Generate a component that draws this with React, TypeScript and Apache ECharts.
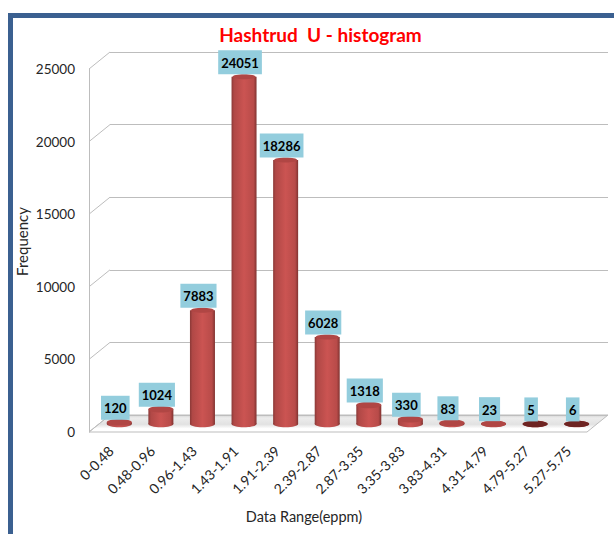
import React, { useEffect, useRef } from "react";
import * as echarts from "echarts";

const categories = ["0-0.48","0.48-0.96","0.96-1.43","1.43-1.91","1.91-2.39","2.39-2.87","2.87-3.35","3.35-3.83","3.83-4.31","4.31-4.79","4.79-5.27","5.27-5.75"];
const frequency = [120,1024,7883,24051,18286,6028,1318,330,83,23,5,6];
const yTicks = [0,5000,10000,15000,20000,25000];

const FONT = "Lato, 'Noto Sans', sans-serif";
const FRONT = { left: 89, right: 587, top: 69, bottom: 432 };
const BACK = { left: 110, right: 608, top: 52, bottom: 415 };
const GRID_LINE = "#bdbdbd";

export default function App() {
  const ref = useRef<HTMLDivElement>(null);
  useEffect(() => {
    document.body.style.margin = "0";
    const chart = echarts.init(ref.current!, undefined, { renderer: "svg" });
    const rowH = (FRONT.bottom - FRONT.top) / (yTicks.length - 1);
    const sideLines = yTicks.map((t, i) => ({
      type: "line",
      z: 1,
      silent: true,
      shape: { x1: FRONT.left, y1: FRONT.bottom - i * rowH, x2: BACK.left, y2: BACK.bottom - i * rowH },
      style: { stroke: GRID_LINE, lineWidth: 1 },
    }));
    const floorFill = new (echarts as any).graphic.LinearGradient(0, 0, 0, 1, [
      { offset: 0, color: "#d6d6d6" },
      { offset: 0.18, color: "#ececec" },
      { offset: 0.55, color: "#e2e2e2" },
      { offset: 0.8, color: "#ffffff" },
      { offset: 1, color: "#ffffff" },
    ]);
    chart.setOption({
      animation: false,
      backgroundColor: "#ffffff",
      title: {
        text: "Hashtrud  U - histogram",
        left: 315.5,
        top: 20,
        textAlign: "center",
        textStyle: { color: "#ff0000", fontFamily: FONT, fontSize: 19, fontWeight: "bold" },
      },
      graphic: [
        { type: "rect", silent: true, z: 10, shape: { x: 8, y: 13, width: 606, height: 5 }, style: { fill: "#3b6090" } },
        { type: "rect", silent: true, z: 10, shape: { x: 8, y: 13, width: 5, height: 521 }, style: { fill: "#3b6090" } },
        {
          type: "polygon",
          silent: true,
          z: 0,
          shape: { points: [[FRONT.left, FRONT.bottom], [FRONT.right, FRONT.bottom], [BACK.right, BACK.bottom], [BACK.left, BACK.bottom]] },
          style: { fill: floorFill, stroke: GRID_LINE, lineWidth: 1 },
        },
        ...sideLines,
      ],
      grid: [
        { left: FRONT.left, width: FRONT.right - FRONT.left, top: FRONT.top, height: FRONT.bottom - FRONT.top },
        { left: BACK.left, width: BACK.right - BACK.left, top: BACK.top, height: BACK.bottom - BACK.top },
        { left: 98.5, width: 499, top: 63, height: 361 },
      ],
      xAxis: [
        { gridIndex: 0, type: "category", data: categories, show: false },
        { gridIndex: 1, type: "category", data: categories, show: false },
        {
          gridIndex: 2,
          type: "category",
          data: categories,
          axisLine: { show: false },
          axisTick: { show: false },
          name: "Data Range(eppm)",
          nameLocation: "middle",
          nameGap: 85,
          nameMoveOverlap: false,
          nameTextStyle: { color: "#262626", fontFamily: FONT, fontSize: 14.5, padding: [0, 88, 0, 0] },
          axisLabel: { interval: 0, rotate: 45, margin: 16, padding: [0, 12, 0, 0], color: "#262626", fontFamily: FONT, fontSize: 14 },
        },
      ],
      yAxis: [
        {
          gridIndex: 0,
          type: "value",
          min: 0,
          max: 25000,
          interval: 5000,
          name: "Frequency",
          nameLocation: "middle",
          nameGap: 60,
          nameMoveOverlap: false,
          nameTextStyle: { color: "#262626", fontFamily: FONT, fontSize: 15, padding: [0, 0, 0, 18] },
          axisLine: { show: true, lineStyle: { color: GRID_LINE } },
          axisTick: { show: false },
          splitLine: { show: false },
          axisLabel: { margin: 14, color: "#262626", fontFamily: FONT, fontSize: 13.5, formatter: (v: number) => String(v) },
        },
        {
          gridIndex: 1,
          type: "value",
          min: 0,
          max: 25000,
          interval: 5000,
          axisLine: { show: false },
          axisTick: { show: false },
          axisLabel: { show: false },
          splitLine: { show: true, lineStyle: { color: GRID_LINE, width: 1 } },
        },
        {
          gridIndex: 2,
          type: "value",
          min: 0,
          max: 25000,
          interval: 5000,
          show: false,
        },
      ],
      series: [
        {
          type: "custom",
          xAxisIndex: 2,
          yAxisIndex: 2,
          data: frequency.map((v, i) => [i, v]),
          z: 5,
          renderItem: (_: any, api: any) => {
            const top = api.coord([api.value(0), api.value(1)]);
            const base = api.coord([api.value(0), 0]);
            const rx = 12.5;
            const ry = 3.2;
            const h = base[1] - top[1];
            const body = new (echarts as any).graphic.LinearGradient(0, 0, 1, 0, [
              { offset: 0, color: "#8a3937" },
              { offset: 0.1, color: "#b04846" },
              { offset: 0.5, color: "#cb5452" },
              { offset: 0.88, color: "#b84b49" },
              { offset: 1, color: "#803331" },
            ]);
            const tall = h > 40;
            return {
              type: "group",
              children: [
                { type: "rect", shape: { x: top[0] - rx, y: top[1], width: rx * 2, height: h }, style: { fill: body } },
                { type: "ellipse", shape: { cx: top[0], cy: base[1], rx, ry }, style: { fill: body } },
                { type: "ellipse", shape: { cx: top[0], cy: top[1], rx: tall ? rx - 1 : rx, ry: tall ? 2.5 : ry }, style: { fill: h < 0.2 ? "#6e2422" : "#b04644" } },
                {
                  type: "text",
                  style: {
                    x: top[0] - 4,
                    y: top[1] - 2.5,
                    text: String(api.value(1)),
                    align: "center",
                    verticalAlign: "bottom",
                    fill: "#000000",
                    font: `bold 13px ${FONT}`,
                    backgroundColor: "#93cddd",
                    padding: [6, 3, 5, 3],
                  },
                },
              ],
            };
          },
        },
      ],
    });
    return () => chart.dispose();
  }, []);
  return <div ref={ref} style={{ width: 614, height: 534 }} />;
}
